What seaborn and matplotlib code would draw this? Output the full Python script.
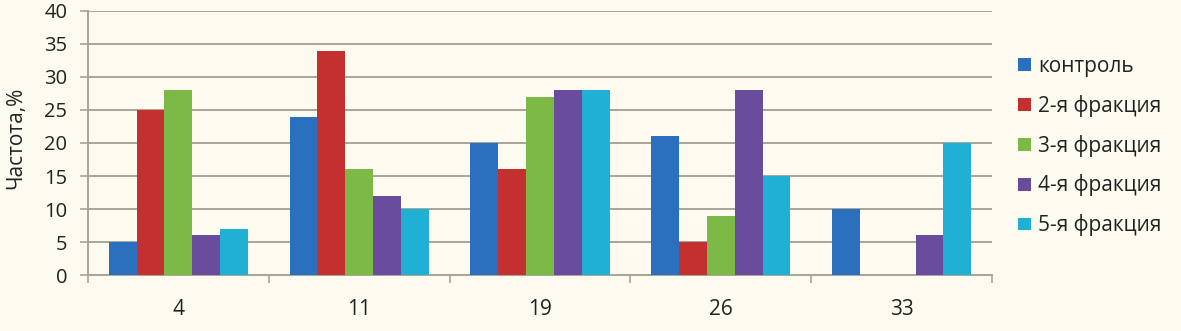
import matplotlib
matplotlib.use("Agg")
import matplotlib.pyplot as plt
import seaborn as sns
import pandas as pd

categories = ["4", "11", "19", "26", "33"]
series_names = ["контроль", "2-я фракция", "3-я фракция", "4-я фракция", "5-я фракция"]
control = [5, 24, 20, 21, 10]
frac2 = [25, 34, 16, 5, 0]
frac3 = [28, 16, 27, 9, 0]
frac4 = [6, 12, 28, 28, 6]
frac5 = [7, 10, 28, 15, 20]
y_ticks = [0, 5, 10, 15, 20, 25, 30, 35, 40]
y_label = "Частота,%"

colors = ["#2B6FBF", "#C42F2F", "#7DB946", "#6A4C9F", "#20B0D3"]
bg = "#FDFBEF"

rows = []
for name, vals in zip(series_names, [control, frac2, frac3, frac4, frac5]):
    for c, v in zip(categories, vals):
        rows.append({"cat": c, "series": name, "value": v})
df = pd.DataFrame(rows)

sns.set_theme(style="white")
plt.rcParams["font.family"] = ["Open Sans", "DejaVu Sans"]

fig = plt.figure(figsize=(11.81, 3.31), dpi=100, facecolor=bg)
ax = fig.add_axes([0.0745, 0.169, 0.7655, 0.798])
ax.set_facecolor(bg)

sns.barplot(data=df, x="cat", y="value", hue="series", order=categories,
            hue_order=series_names, palette=colors, width=0.77, gap=0,
            saturation=1, edgecolor="none", linewidth=0, ax=ax, zorder=3)

ax.set_ylim(0, 40)
ax.set_yticks(y_ticks)
ax.set_xlim(-0.5, len(categories) - 0.5)
ax.yaxis.grid(True, color="#A6A598", linewidth=1.4, zorder=0)
ax.set_axisbelow(True)

for s in ["top", "right"]:
    ax.spines[s].set_visible(False)
for s in ["left", "bottom"]:
    ax.spines[s].set_color("#A6A598")
    ax.spines[s].set_linewidth(1.4)

ax.tick_params(axis="y", direction="out", length=6, width=1.2, color="#A6A598",
               labelsize=14.5, pad=9, left=True, labelcolor="#222222")
# x: ticks at category boundaries, labels centered
ax.set_xticks([i - 0.5 for i in range(len(categories) + 1)], minor=False)
ax.set_xticklabels([""] * (len(categories) + 1))
ax.set_xticks(range(len(categories)), minor=True)
ax.set_xticklabels(categories, minor=True)
ax.tick_params(axis="x", which="major", direction="out", length=6, width=1.2,
               color="#A6A598", bottom=True)
ax.tick_params(axis="x", which="minor", length=0, labelsize=15, pad=17,
               labelcolor="#222222")

ax.set_xlabel("")
ax.set_ylabel(y_label, fontsize=15, color="#222222")
ax.yaxis.set_label_coords(-0.068, 0.52)

leg = ax.legend(loc="upper left", bbox_to_anchor=(1.02, 0.862), frameon=False,
                fontsize=15, handlelength=0.58, handleheight=0.58,
                handletextpad=0.38, labelspacing=0.86, borderaxespad=0)
for t in leg.get_texts():
    t.set_color("#222222")

fig.savefig("out.png", dpi=100, facecolor=bg)
